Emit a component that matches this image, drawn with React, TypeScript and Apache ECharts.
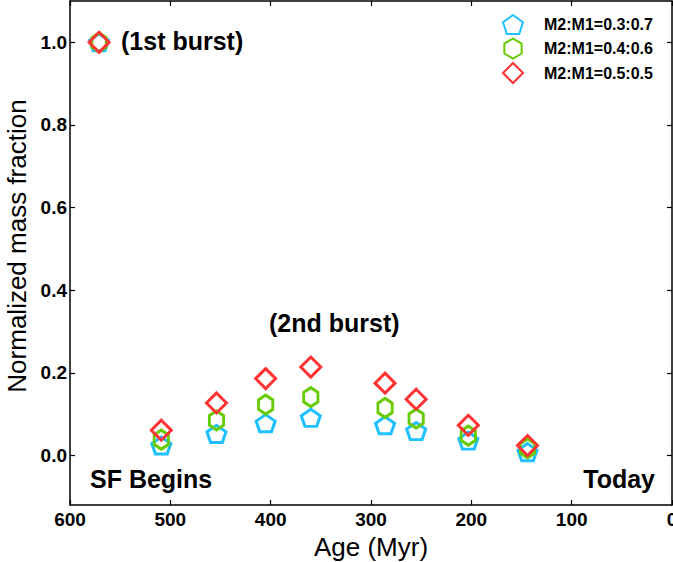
import React, { useEffect, useRef } from "react";
import * as echarts from "echarts";

const ages = [571, 509, 454, 405, 360, 286, 255, 203, 144];
const ratio37 = [1.0, 0.024, 0.052, 0.078, 0.091, 0.073, 0.059, 0.036, 0.008];
const ratio46 = [1.0, 0.038, 0.085, 0.123, 0.141, 0.115, 0.089, 0.048, 0.017];
const ratio55 = [1.0, 0.061, 0.127, 0.186, 0.214, 0.175, 0.136, 0.073, 0.024];
const seriesNames = ["M2:M1=0.3:0.7", "M2:M1=0.4:0.6", "M2:M1=0.5:0.5"];
const yTicks = [0, 0.2, 0.4, 0.6, 0.8, 1.0];

const FONT = "'Liberation Sans', Arial, Helvetica, sans-serif";
const PENTAGON = "path://M0,-1L0.951,-0.309L0.588,0.809L-0.588,0.809L-0.951,-0.309Z";
const HEXAGON = "path://M0,-1L0.866,-0.5L0.866,0.5L0,1L-0.866,0.5L-0.866,-0.5Z";

export default function App() {
  const ref = useRef<HTMLDivElement>(null);
  useEffect(() => {
    document.body.style.margin = "0";
    document.body.style.overflow = "hidden";
    const chart = echarts.init(ref.current!, null, { renderer: "svg" });
    const mk = (vals: number[]) => ages.map((a, i) => [a, vals[i]]);
    const sty = (c: string) => ({ color: "rgba(255,255,255,0)", borderColor: c, borderWidth: 3, opacity: 1 });
    const axisLine = { show: true, onZero: false, lineStyle: { color: "#000", width: 1.5 } };
    const tick = { show: true, inside: true, length: 5, lineStyle: { color: "#000", width: 1.2 } };
    chart.setOption({
      animation: false,
      grid: { left: 70, right: 1, top: 1, bottom: 57, outerBoundsMode: "none", containLabel: false },
      xAxis: [
        {
          type: "value", min: 0, max: 600, interval: 100, inverse: true, position: "bottom",
          name: "Age (Myr)", nameLocation: "middle", nameGap: 24,
          nameTextStyle: { fontFamily: FONT, fontSize: 26, color: "#000" },
          axisLine, axisTick: tick, splitLine: { show: false },
          axisLabel: { fontFamily: FONT, fontSize: 19, fontWeight: "bold", color: "#000", margin: 5 },
        },
        {
          type: "value", min: 0, max: 600, interval: 100, inverse: true, position: "top",
          axisLine, axisTick: tick, splitLine: { show: false }, axisLabel: { show: false },
        },
      ],
      yAxis: [
        {
          type: "value", min: -0.12, max: 1.1, position: "left",
          name: "Normalized mass fraction", nameLocation: "middle", nameGap: 37,
          nameTextStyle: { fontFamily: FONT, fontSize: 26, color: "#000", padding: [0, 0, 0, 14] },
          axisLine, splitLine: { show: false },
          axisTick: { ...tick, customValues: yTicks },
          axisLabel: {
            customValues: yTicks, fontFamily: FONT, fontSize: 19, fontWeight: "bold", color: "#000", margin: 3,
            formatter: (v: number) => v.toFixed(1),
          },
        },
        {
          type: "value", min: -0.12, max: 1.1, position: "right",
          axisLine, splitLine: { show: false },
          axisTick: { ...tick, customValues: yTicks },
          axisLabel: { show: false },
        },
      ],
      legend: {
        orient: "vertical", left: 502, top: 14, padding: 0, itemWidth: 20, itemHeight: 20, itemGap: 2.5,
        data: seriesNames,
        textStyle: { fontFamily: FONT, fontSize: 16, fontWeight: "bold", color: "#000", padding: [0, 0, 0, 16] },
      },
      series: [
        { name: seriesNames[0], type: "scatter", data: mk(ratio37), symbol: PENTAGON, symbolKeepAspect: true, symbolSize: [19, 18], itemStyle: sty("#1ec0ff") },
        { name: seriesNames[1], type: "scatter", data: mk(ratio46), symbol: HEXAGON, symbolKeepAspect: true, symbolSize: [16.5, 19], itemStyle: sty("#66cc00") },
        { name: seriesNames[2], type: "scatter", data: mk(ratio55), symbol: "diamond", symbolSize: 20, itemStyle: sty("#ff3333") },
      ],
      graphic: [
        { type: "text", left: 121, top: 28, style: { text: "(1st burst)", font: `bold 25px ${FONT}`, fill: "#000" } },
        { type: "text", left: 269, top: 310, style: { text: "(2nd burst)", font: `bold 25px ${FONT}`, fill: "#000" } },
        { type: "text", left: 90, top: 466, style: { text: "SF Begins", font: `bold 25px ${FONT}`, fill: "#000" } },
        { type: "text", right: 18, top: 466, style: { text: "Today", font: `bold 25px ${FONT}`, fill: "#000" } },
      ],
    });
    return () => chart.dispose();
  }, []);
  return <div ref={ref} style={{ width: 673, height: 562 }} />;
}
